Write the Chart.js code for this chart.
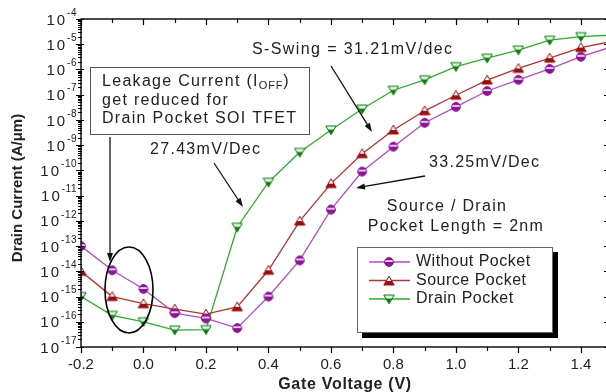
<!DOCTYPE html>
<html>
<head>
<meta charset="utf-8">
<title>Drain Current vs Gate Voltage</title>
<script src="https://cdn.jsdelivr.net/npm/chart.js"></script>
<style>
  html, body { margin: 0; padding: 0; background: #fff; overflow: hidden; }
  #grafico { display: block; }
</style>
</head>
<body>
<canvas id="grafico" width="616" height="392"></canvas>
<script>
// tensione di gate (V)
var gateVoltage = [-0.2, -0.1, 0.0, 0.1, 0.2, 0.3, 0.4, 0.5, 0.6, 0.7, 0.8, 0.9, 1.0, 1.1, 1.2, 1.3, 1.4, 1.5];
// corrente di drain (A/um)
var withoutPocket = [1e-13, 1.1e-14, 2e-15, 2.2e-16, 1.35e-16, 5.6e-17, 1e-15, 2.7e-14, 2.8e-12, 9e-11, 8.7e-10, 7.7e-9, 3.3e-8, 1.4e-7, 3.9e-7, 1.05e-6, 3.2e-6, 7.9e-6];
var sourcePocket  = [1e-14, 1e-15, 5.2e-16, 3.2e-16, 2e-16, 3.9e-16, 1.1e-14, 9.8e-13, 3e-11, 4.6e-10, 4e-9, 2.3e-8, 9.5e-8, 3.8e-7, 1.1e-6, 2.8e-6, 7.4e-6, 1.3e-5];
var drainPocket   = [1e-15, 1.8e-16, 1e-16, 4.7e-17, 4.9e-17, 5.6e-13, 3.4e-11, 5.2e-10, 4e-9, 2.7e-8, 1.5e-7, 3.9e-7, 1.3e-6, 2.8e-6, 5.9e-6, 1.45e-5, 2e-5, 2.3e-5];
var seriesNames = ["Without Pocket", "Source Pocket", "Drain Pocket"];
// etichette degli assi
var xTicks = [-0.2, 0.0, 0.2, 0.4, 0.6, 0.8, 1.0, 1.2, 1.4];
var yExponents = [-17, -16, -15, -14, -13, -12, -11, -10, -9, -8, -7, -6, -5, -4];

var FONT = "'Liberation Sans', Arial, sans-serif";

// simbolo mezzo pieno (stile Origin)
function creaMarker(tipo, colore, chiaro) {
  var c = document.createElement('canvas');
  c.width = 12; c.height = 12;
  var g = c.getContext('2d');
  g.beginPath();
  if (tipo === 'cerchio') {
    g.arc(6, 6, 4.4, 0, 2 * Math.PI);
  } else if (tipo === 'su') {
    g.moveTo(6, 1.2); g.lineTo(11.2, 10); g.lineTo(0.8, 10); g.closePath();
  } else {
    g.moveTo(0.8, 2); g.lineTo(11.2, 2); g.lineTo(6, 10.8); g.closePath();
  }
  g.fillStyle = colore; g.fill();
  g.save(); g.clip();
  g.fillStyle = chiaro;
  if (tipo === 'cerchio') g.fillRect(0, 4.2, 12, 1.8);
  else if (tipo === 'su') g.fillRect(0, 0, 12, 6);
  else g.fillRect(0, 0, 12, 5.6);
  g.restore();
  g.lineWidth = 1; g.strokeStyle = colore; g.stroke();
  return c;
}

var markers = [
  creaMarker('cerchio', '#8c1496', '#f0d8f4'),
  creaMarker('su', '#9a1010', '#ffffff'),
  creaMarker('giu', '#0d7d0d', '#e4f6e4')
];
var lineColors = ['#b04cc4', '#b03434', '#2eaa2e'];

function punti(valori) {
  return gateVoltage.map(function (v, i) { return { x: v, y: valori[i] }; });
}

function testo(ctx, s, x, y, size, spacing, align, bold) {
  ctx.font = (bold ? 'bold ' : '') + size + 'px ' + FONT;
  ctx.letterSpacing = spacing + 'px';
  ctx.textAlign = align || 'left';
  ctx.textBaseline = 'middle';
  ctx.fillText(s, x, y);
}

function freccia(ctx, x1, y1, x2, y2) {
  var ang = Math.atan2(y2 - y1, x2 - x1);
  ctx.beginPath();
  ctx.moveTo(x1, y1);
  ctx.lineTo(x2 - 6 * Math.cos(ang), y2 - 6 * Math.sin(ang));
  ctx.stroke();
  ctx.beginPath();
  ctx.moveTo(x2, y2);
  ctx.lineTo(x2 - 9 * Math.cos(ang) + 3 * Math.sin(ang), y2 - 9 * Math.sin(ang) - 3 * Math.cos(ang));
  ctx.lineTo(x2 - 9 * Math.cos(ang) - 3 * Math.sin(ang), y2 - 9 * Math.sin(ang) + 3 * Math.cos(ang));
  ctx.closePath();
  ctx.fill();
}

// assi, tacche, etichette e annotazioni
var disegnaAssi = {
  id: 'disegnaAssi',
  afterDraw: function (chart) {
    var ctx = chart.ctx, a = chart.chartArea;
    var sx = chart.scales.x, sy = chart.scales.y;
    ctx.save();
    ctx.strokeStyle = '#000';
    ctx.fillStyle = '#000';
    ctx.lineWidth = 1.4;
    ctx.strokeRect(a.left, a.top, a.right - a.left, a.bottom - a.top);

    // tacche asse x (sotto verso l'esterno, sopra verso l'interno)
    ctx.lineWidth = 1.2;
    gateVoltage.forEach(function (v) {
      var px = Math.round(sx.getPixelForValue(v)) + 0.5;
      var lung = xTicks.some(function (t) { return Math.abs(t - v) < 1e-6; }) ? 6 : 4;
      ctx.beginPath();
      ctx.moveTo(px, a.bottom); ctx.lineTo(px, a.bottom + lung);
      ctx.moveTo(px, a.top); ctx.lineTo(px, a.top + lung);
      ctx.stroke();
    });

    // tacche asse y logaritmico
    yExponents.forEach(function (e, i) {
      var py = Math.round(sy.getPixelForValue(Math.pow(10, e))) + 0.5;
      ctx.beginPath();
      ctx.moveTo(a.left - 5, py); ctx.lineTo(a.left + 3, py);
      ctx.moveTo(a.right - 5, py); ctx.lineTo(a.right, py);
      ctx.stroke();
      if (i < yExponents.length - 1) {
        for (var k = 2; k <= 9; k++) {
          var pm = Math.round(sy.getPixelForValue(k * Math.pow(10, e))) + 0.5;
          ctx.beginPath();
          ctx.moveTo(a.left - 3, pm); ctx.lineTo(a.left + 1, pm);
          ctx.moveTo(a.right - 3, pm); ctx.lineTo(a.right, pm);
          ctx.stroke();
        }
      }
    });

    // etichette y con esponente
    ctx.fillStyle = '#222';
    yExponents.forEach(function (e) {
      var py = sy.getPixelForValue(Math.pow(10, e));
      ctx.font = '10px ' + FONT;
      ctx.letterSpacing = '0.5px';
      var wEsp = ctx.measureText(String(e)).width;
      testo(ctx, String(e), 77 - wEsp, py - 6, 10, 0.5, 'left');
      testo(ctx, '10', 77 - wEsp, py + 1.5, 15, 2, 'right');
    });

    // titoli degli assi
    testo(ctx, 'Gate Voltage (V)', 345, 385, 16, 0.7, 'center', true);
    ctx.save();
    ctx.translate(18, 188);
    ctx.rotate(-Math.PI / 2);
    testo(ctx, 'Drain Current (A/\u03bcm)', 0, 0, 15, 0, 'center', true);
    ctx.restore();

    // riquadro leakage
    ctx.fillStyle = '#fff';
    ctx.fillRect(90, 67, 219, 67);
    ctx.strokeStyle = '#555';
    ctx.lineWidth = 1;
    ctx.strokeRect(90.5, 67.5, 219, 67);
    ctx.fillStyle = '#222';
    testo(ctx, 'Leakage Current (I', 102, 82, 16, 1.3, 'left');
    var w1 = ctx.measureText('Leakage Current (I').width;
    testo(ctx, 'OFF', 102 + w1, 86, 11, 0.8, 'left');
    var w2 = ctx.measureText('OFF').width;
    testo(ctx, ')', 102 + w1 + w2, 82, 16, 1.3, 'left');
    testo(ctx, 'get reduced for', 102, 101, 16, 1.3, 'left');
    testo(ctx, 'Drain Pocket SOI TFET', 102, 119, 16, 1.3, 'left');

    // ellisse sulle correnti di leakage
    ctx.strokeStyle = '#000';
    ctx.lineWidth = 1.6;
    ctx.beginPath();
    ctx.ellipse(129, 290, 24, 43, 0, 0, 2 * Math.PI);
    ctx.stroke();

    // testi e frecce
    ctx.fillStyle = '#222';
    testo(ctx, 'S-Swing = 31.21mV/dec', 252, 50, 16, 1.4, 'left');
    testo(ctx, '27.43mV/Dec', 150, 150, 16, 1.3, 'left');
    testo(ctx, '33.25mV/Dec', 429, 163, 16, 1.3, 'left');
    testo(ctx, 'Source / Drain', 447, 207, 16, 1.3, 'center');
    testo(ctx, 'Pocket Length = 2nm', 456, 227, 16, 1.3, 'center');

    ctx.strokeStyle = '#111';
    ctx.fillStyle = '#111';
    ctx.lineWidth = 1.3;
    freccia(ctx, 110, 137, 110, 262);
    freccia(ctx, 214, 163, 243, 207);
    freccia(ctx, 331, 66, 372, 132);
    freccia(ctx, 425, 176, 356, 188);

    // legenda con ombra
    ctx.fillStyle = '#000';
    ctx.fillRect(362, 252, 196, 86);
    ctx.fillStyle = '#fff';
    ctx.fillRect(357, 247, 195, 85);
    ctx.strokeStyle = '#666';
    ctx.lineWidth = 1;
    ctx.strokeRect(357.5, 247.5, 195, 85);
    seriesNames.forEach(function (nome, i) {
      var ly = 262 + i * 18.5;
      ctx.strokeStyle = lineColors[i];
      ctx.lineWidth = 1.3;
      ctx.beginPath();
      ctx.moveTo(369, ly); ctx.lineTo(410, ly);
      ctx.stroke();
      ctx.drawImage(markers[i], 389 - 6, Math.round(ly) - 6);
      ctx.fillStyle = '#222';
      testo(ctx, nome, 416, ly, 16, 0.5, 'left');
    });
    ctx.restore();
  }
};

var serie = [withoutPocket, sourcePocket, drainPocket];
var datasets = serie.map(function (valori, i) {
  return {
    label: seriesNames[i],
    data: punti(valori),
    borderColor: lineColors[i],
    backgroundColor: lineColors[i],
    borderWidth: 1.3,
    pointStyle: markers[i],
    pointRadius: 5,
    tension: 0
  };
});

new Chart(document.getElementById('grafico'), {
  type: 'line',
  data: { datasets: datasets },
  options: {
    responsive: false,
    animation: false,
    devicePixelRatio: 1,
    layout: { padding: { left: 0, top: 19, right: 7, bottom: 0 } },
    plugins: { legend: { display: false }, tooltip: { enabled: false } },
    scales: {
      x: {
        type: 'linear', min: -0.2, max: 1.49,
        border: { display: false },
        grid: { display: false },
        afterFit: function (s) { s.height = 45; },
        afterBuildTicks: function (s) { s.ticks = xTicks.map(function (v) { return { value: v }; }); },
        ticks: {
          font: { family: FONT, size: 15 }, color: '#222', padding: 1,
          maxRotation: 0, autoSkip: false,
          callback: function (v) { return Number(v).toFixed(1); }
        }
      },
      y: {
        type: 'logarithmic', min: 1e-17, max: 1e-4,
        border: { display: false },
        grid: { display: false },
        ticks: { display: false },
        afterFit: function (s) { s.width = 81; }
      }
    }
  },
  plugins: [disegnaAssi]
});
</script>
</body>
</html>
